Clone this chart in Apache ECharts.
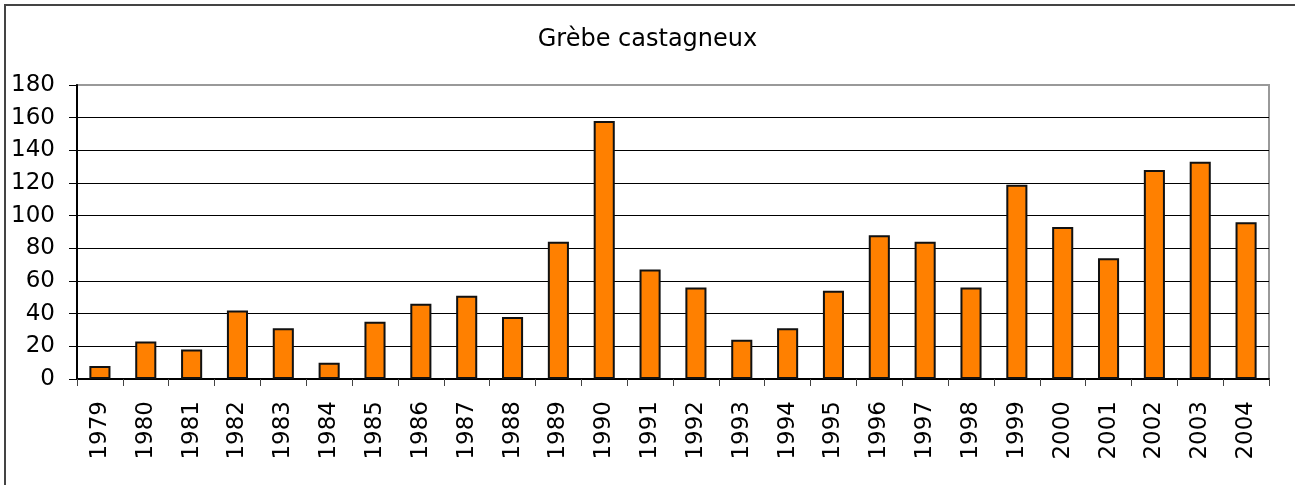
<!DOCTYPE html>
<html>
<head>
<meta charset="utf-8">
<script src="https://cdn.jsdelivr.net/npm/echarts@6/dist/echarts.min.js"></script>
<style>
  html, body { margin: 0; padding: 0; background: #fff; }
  #main { width: 1295px; height: 485px; }
</style>
</head>
<body>
<div id="main"></div>
<script>
const years = ['1979', '1980', '1981', '1982', '1983', '1984', '1985', '1986', '1987',
  '1988', '1989', '1990', '1991', '1992', '1993', '1994', '1995', '1996', '1997',
  '1998', '1999', '2000', '2001', '2002', '2003', '2004'];
const counts = [8, 23, 18, 42, 31, 10, 35, 46, 51, 38, 84, 158, 67, 56, 24, 31, 54, 88, 84,
  56, 119, 93, 74, 128, 133, 96];
const titleText = 'Grèbe castagneux';

const chart = echarts.init(document.getElementById('main'));
const font = 'DejaVu Sans, Verdana, sans-serif';

chart.setOption({
  animation: false,
  backgroundColor: '#fff',
  title: {
    text: titleText,
    left: 'center',
    top: 23,
    textStyle: { fontFamily: font, fontSize: 24, fontWeight: 'normal', color: '#000' }
  },
  graphic: [
    // outer frame (top and left edges)
    {
      type: 'polyline',
      shape: { points: [[1295, 5], [5, 5], [5, 485]] },
      style: { stroke: '#444', lineWidth: 2, fill: null }
    }
  ],
  grid: {
    left: 77, right: 26, top: 85, bottom: 106,
    show: true, borderColor: '#999', borderWidth: 2, backgroundColor: 'transparent'
  },
  xAxis: {
    type: 'category',
    data: years,
    axisLine: { lineStyle: { color: '#000', width: 2 } },
    axisTick: { show: true, length: 7, lineStyle: { color: '#444' } },
    axisLabel: {
      rotate: 90, margin: 22, color: '#000',
      fontFamily: font, fontSize: 23
    }
  },
  yAxis: {
    type: 'value',
    min: 0, max: 180, interval: 20,
    axisLine: { show: true, lineStyle: { color: '#000', width: 2 } },
    axisTick: { show: true, length: 8, lineStyle: { color: '#000' } },
    axisLabel: { margin: 22, color: '#000', fontFamily: font, fontSize: 23 },
    splitLine: { showMaxLine: false, lineStyle: { color: '#000', width: 1 } }
  },
  series: [{
    type: 'bar',
    data: counts,
    barWidth: '46%',
    itemStyle: { color: '#FF8000', borderColor: '#111', borderWidth: 2 }
  }]
});
</script>
</body>
</html>
